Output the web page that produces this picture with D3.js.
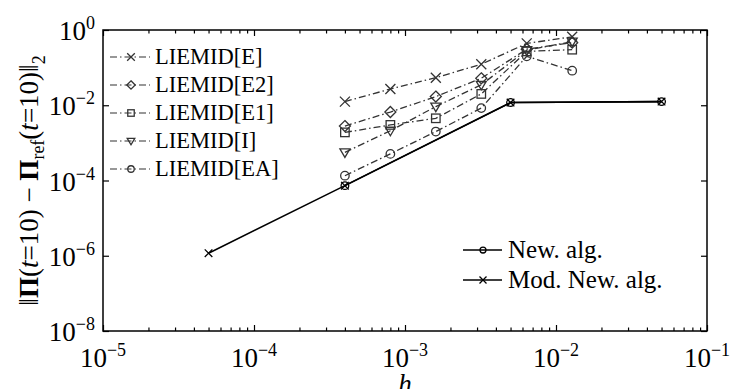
<!DOCTYPE html>
<html>
<head>
<meta charset="utf-8">
<script src="https://cdn.jsdelivr.net/npm/d3@7"></script>
<style>
  body { margin: 0; background: #fff; }
  svg { font-family: "Liberation Serif", "Times New Roman", serif; }
</style>
</head>
<body>
<script>
// step sizes h and error values

const hLie = [4e-4, 8e-4, 1.6e-3, 3.2e-3, 6.4e-3, 1.28e-2];
const lieE  = [1.25e-2, 2.7e-2, 5.4e-2, 0.123, 0.44, 0.66];
const lieE2 = [2.8e-3, 6.6e-3, 1.7e-2, 5.2e-2, 0.31, 0.46];
const lieE1 = [1.9e-3, 3.0e-3, 4.5e-3, 2.0e-2, 0.27, 0.30];
const lieI  = [5.6e-4, 2.1e-3, 9.2e-3, 3.5e-2, 0.29, 0.49];
const lieEA = [1.34e-4, 5.1e-4, 2.0e-3, 8.4e-3, 0.20, 0.083];

const hNew = [4e-4, 5e-3, 5e-2];
const newAlg = [7.3e-5, 1.18e-2, 1.25e-2];
const hMod = [5e-5, 4e-4, 5e-3, 5e-2];
const modAlg = [1.17e-6, 7.3e-5, 1.18e-2, 1.25e-2];

const lieNames = ['LIEMID[E]', 'LIEMID[E2]', 'LIEMID[E1]', 'LIEMID[I]', 'LIEMID[EA]'];
const lieSymbols = ['cross', 'diamond', 'square', 'tri', 'circle'];
const algNames = ['New. alg.', 'Mod. New. alg.'];

const xTickExp = [-5, -4, -3, -2, -1];
const yTickExp = [0, -2, -4, -6, -8];

// set the dimensions and margins of the graph
const margin = {top: 30, right: 23, bottom: 58, left: 103},
    width = 730 - margin.left - margin.right,
    height = 389 - margin.top - margin.bottom;

const svg = d3.select("body")
    .append("svg")
    .attr("width", 730)
    .attr("height", 389)
    .append("g")
    .attr("transform", `translate(${margin.left}, ${margin.top})`);

var x = d3.scaleLog().domain([1e-5, 1e-1]).range([0, width]);
var y = d3.scaleLog().domain([1e-8, 1]).range([height, 0]);

// minor x ticks 2..9 in each decade
var xMinor = [];
xTickExp.slice(0, -1).forEach(function (e) {
    for (var k = 2; k <= 9; k++) xMinor.push(k * Math.pow(10, e));
});
var xMajor = xTickExp.map(e => Math.pow(10, e));
var yMajor = yTickExp.map(e => Math.pow(10, e));

// axes, ticks pointing inwards
function tickAxis(axis, vals, size) {
    return axis.tickValues(vals).tickSize(size).tickFormat("").tickSizeOuter(0);
}
svg.append("g").attr("transform", `translate(0,${height})`)
    .call(tickAxis(d3.axisBottom(x), xMajor, -6));
svg.append("g").attr("transform", `translate(0,${height})`)
    .call(tickAxis(d3.axisBottom(x), xMinor, -3.5));
svg.append("g").call(tickAxis(d3.axisTop(x), xMajor, -6));
svg.append("g").call(tickAxis(d3.axisTop(x), xMinor, -3.5));
svg.append("g").call(tickAxis(d3.axisLeft(y), yMajor, -6));
svg.append("g").attr("transform", `translate(${width},0)`)
    .call(tickAxis(d3.axisRight(y), yMajor, -6));
svg.selectAll(".domain").remove();
svg.selectAll(".tick line").attr("stroke", "#000").attr("stroke-width", 1.2);

svg.append("rect")
    .attr("width", width).attr("height", height)
    .attr("fill", "none").attr("stroke", "#000").attr("stroke-width", 1.5);

// tick labels 10^n
svg.selectAll(".xlab").data(xTickExp).enter()
    .append("text")
    .attr("class", "xlab")
    .attr("x", d => x(Math.pow(10, d)))
    .attr("y", height + 36)
    .attr("text-anchor", "middle")
    .style("font-size", "27px")
    .each(function (d) {
        var t = d3.select(this);
        t.append("tspan").text("10");
        t.append("tspan").attr("dy", -11).style("font-size", "18px").text("\u2212" + (-d));
    });

svg.selectAll(".ylab").data(yTickExp).enter()
    .append("text")
    .attr("class", "ylab")
    .attr("x", -8)
    .attr("y", d => y(Math.pow(10, d)) + 10)
    .attr("text-anchor", "end")
    .style("font-size", "27px")
    .each(function (d) {
        var t = d3.select(this);
        t.append("tspan").text("10");
        t.append("tspan").attr("dy", -11).style("font-size", "18px")
            .text(d === 0 ? "0" : "\u2212" + (-d));
    });

// axis titles
svg.append("text")
    .attr("x", width / 2)
    .attr("y", height + 62)
    .attr("text-anchor", "middle")
    .style("font-size", "27px")
    .style("font-style", "italic")
    .text("h");

var yt = svg.append("text")
    .attr("transform", `translate(${-margin.left + 38}, ${height / 2}) rotate(-90)`)
    .attr("text-anchor", "middle")
    .style("font-size", "27px");
yt.append("tspan").text("\u2016");
yt.append("tspan").style("font-weight", "bold").text("\u03A0");
yt.append("tspan").text("(");
yt.append("tspan").style("font-style", "italic").text("t");
yt.append("tspan").text("=10) \u2212 ");
yt.append("tspan").style("font-weight", "bold").text("\u03A0");
yt.append("tspan").attr("dy", 6).style("font-size", "18px").text("ref");
yt.append("tspan").attr("dy", -6).text("(");
yt.append("tspan").style("font-style", "italic").text("t");
yt.append("tspan").text("=10)\u2016");
yt.append("tspan").attr("dy", 7).style("font-size", "18px").text("2");

// marker drawing
function marker(g, type, cx, cy, r, color) {
    if (type === 'cross') {
        g.append("path").attr("d", `M${cx - r},${cy - r}L${cx + r},${cy + r}M${cx - r},${cy + r}L${cx + r},${cy - r}`)
            .attr("stroke", color).attr("stroke-width", 1.3).attr("fill", "none");
    } else if (type === 'diamond') {
        g.append("path").attr("d", `M${cx},${cy - r * 1.1}L${cx + r * 1.1},${cy}L${cx},${cy + r * 1.1}L${cx - r * 1.1},${cy}Z`)
            .attr("stroke", color).attr("stroke-width", 1.3).attr("fill", "none");
    } else if (type === 'square') {
        g.append("rect").attr("x", cx - r * 0.85).attr("y", cy - r * 0.85)
            .attr("width", r * 1.7).attr("height", r * 1.7)
            .attr("stroke", color).attr("stroke-width", 1.3).attr("fill", "none");
    } else if (type === 'tri') {
        g.append("path").attr("d", `M${cx - r},${cy - r * 0.7}L${cx + r},${cy - r * 0.7}L${cx},${cy + r}Z`)
            .attr("stroke", color).attr("stroke-width", 1.3).attr("fill", "none");
    } else if (type === 'circle') {
        g.append("circle").attr("cx", cx).attr("cy", cy).attr("r", r * 0.85)
            .attr("stroke", color).attr("stroke-width", 1.3).attr("fill", "none");
    }
}

const line = d3.line()
    .x(d => x(d[0]))
    .y(d => y(d[1]));

const dashDot = "7,3,1.5,3";
const gray = "#333";

// LIEMID series
var lieSeries = [lieE, lieE2, lieE1, lieI, lieEA];
lieSeries.forEach(function (vals, i) {
    var pts = hLie.map((h, j) => [h, vals[j]]);
    svg.append("path")
        .datum(pts)
        .attr("fill", "none")
        .attr("stroke", gray)
        .attr("stroke-width", 1.3)
        .attr("stroke-dasharray", dashDot)
        .attr("d", line);
    var g = svg.append("g");
    pts.forEach(p => marker(g, lieSymbols[i], x(p[0]), y(p[1]), 5, gray));
});

// new algorithm lines
var modPts = hMod.map((h, j) => [h, modAlg[j]]);
var newPts = hNew.map((h, j) => [h, newAlg[j]]);
svg.append("path").datum(modPts)
    .attr("fill", "none").attr("stroke", "#000").attr("stroke-width", 1.6).attr("d", line);
svg.append("path").datum(newPts)
    .attr("fill", "none").attr("stroke", "#000").attr("stroke-width", 1.6).attr("d", line);
var gn = svg.append("g");
newPts.forEach(p => marker(gn, 'circle', x(p[0]), y(p[1]), 4.5, "#000"));
modPts.forEach(p => marker(gn, 'cross', x(p[0]), y(p[1]), 3.8, "#000"));

// legend for LIEMID
var leg1 = svg.append("g").attr("transform", "translate(7, 27)");
lieNames.forEach(function (name, i) {
    var ly = i * 28;
    leg1.append("line")
        .attr("x1", 0).attr("x2", 40).attr("y1", ly).attr("y2", ly)
        .attr("stroke", gray).attr("stroke-width", 1.2)
        .attr("stroke-dasharray", dashDot);
    marker(leg1, lieSymbols[i], 21, ly, 3.8, gray);
    leg1.append("text")
        .attr("x", 45).attr("y", ly + 7)
        .style("font-size", "22.5px")
        .text(name);
});

// legend for new algorithms
var leg2 = svg.append("g").attr("transform", `translate(${463 - margin.left}, ${250 - margin.top})`);
algNames.forEach(function (name, i) {
    var ly = i * 30;
    leg2.append("line")
        .attr("x1", 0).attr("x2", 39).attr("y1", ly).attr("y2", ly)
        .attr("stroke", "#000").attr("stroke-width", 1.5);
    marker(leg2, i === 0 ? 'circle' : 'cross', 20, ly, 3.5, "#000");
    leg2.append("text")
        .attr("x", 45).attr("y", ly + 8)
        .style("font-size", "25px")
        .text(name);
});
</script>
</body>
</html>
